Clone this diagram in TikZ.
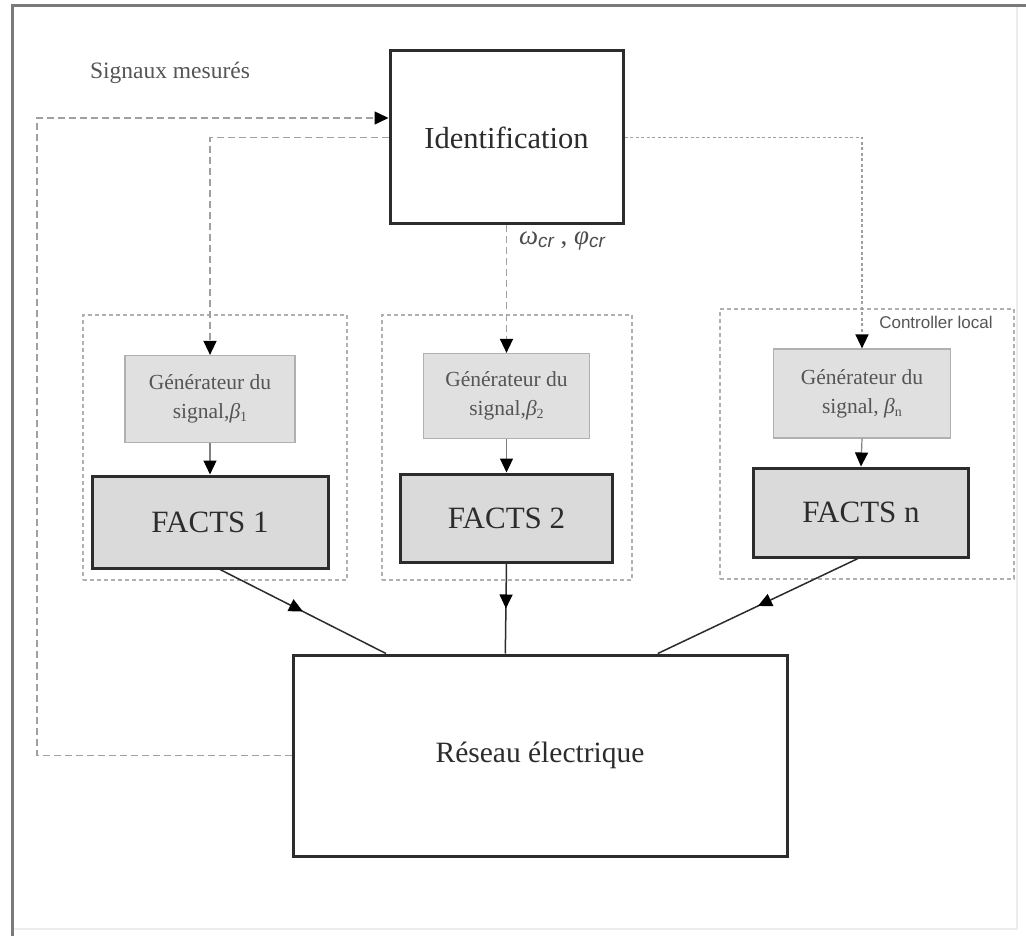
\documentclass[tikz,border=0pt]{standalone}
\usepackage{fontspec}
\setmainfont{Liberation Serif}
\setsansfont{Liberation Sans}
\usetikzlibrary{arrows.meta,decorations.markings,calc}

\definecolor{framegray}{HTML}{7A7A7A}
\definecolor{dashgray}{HTML}{A0A0A0}
\definecolor{boxgray}{HTML}{B0B0B0}
\definecolor{genfill}{HTML}{E0E0E0}
\definecolor{factsfill}{HTML}{DADADA}
\definecolor{darkline}{HTML}{2C2C2C}
\definecolor{txtgray}{HTML}{555555}

% italic Greek symbol with a lowered index
\newcommand{\symidx}[3]{\textit{#1}\raisebox{-#3}{\fontsize{14}{16}\selectfont #2}}

\tikzset{
  tip/.style={-{Triangle[length=14pt,width=13pt,color=black]}},
  sig/.style={draw=dashgray, line width=1.5pt, dash pattern=on 7pt off 4pt, tip},
  localbox/.style={draw=boxgray, line width=1.6pt, dash pattern=on 4pt off 3pt,
    rectangle, inner sep=0pt},
  genbox/.style={draw=boxgray, fill=genfill, line width=1.2pt, rectangle, inner sep=0pt,
    align=center, text=txtgray, font=\fontsize{21.5}{29}\selectfont},
  factsbox/.style={draw=darkline, fill=factsfill, line width=3pt, rectangle, inner sep=0pt,
    text=darkline, font=\fontsize{31}{36}\selectfont},
  bigbox/.style={draw=darkline, fill=white, line width=3pt, rectangle, inner sep=0pt,
    text=darkline},
  feed/.style={draw=gray, line width=1.2pt, tip},
  midtip/.style={draw=darkline, line width=1.5pt, postaction={decorate},
    decoration={markings, mark=at position 0.5 with
      {\arrow{Triangle[length=14pt,width=13pt,color=black]}}}}
}

\begin{document}
\begin{tikzpicture}[x=1pt, y=-1pt]
  % page and frame
  \fill[white] (0,0) rectangle (1026,936);
  \useasboundingbox (0,0) rectangle (1026,936);
  \draw[gray!15, line width=1.5pt] (1017,6) -- (1017,929) -- (12,929);
  \draw[framegray, line width=3pt] (12,936) -- (12,6) -- (1026,6);

  % local controller frames
  \node[localbox, minimum width=264pt, minimum height=265pt] (loc1) at (215,447.5) {};
  \node[localbox, minimum width=250pt, minimum height=265pt] (loc2) at (507,447.5) {};
  \node[localbox, minimum width=294pt, minimum height=270pt] (loc3) at (867,444) {};

  % blocks
  \node[bigbox, minimum width=233pt, minimum height=173pt,
        font=\fontsize{30.5}{36}\selectfont] (ident) at (506.5,137.5) {Identification};

  \node[genbox, minimum width=170pt, minimum height=87pt] (gen1) at (210,399)
    {Générateur du\\signal,\symidx{β}{1}{3pt}};
  \node[genbox, minimum width=166pt, minimum height=85pt] (gen2) at (506.5,396)
    {Générateur du\\signal,\symidx{β}{2}{3pt}};
  \node[genbox, minimum width=177pt, minimum height=89pt] (genn) at (862,393.5)
    {Générateur du\\signal, \symidx{β}{n}{3pt}};

  \node[factsbox, minimum width=236pt, minimum height=92pt] (fac1) at (210,522) {FACTS 1};
  \node[factsbox, minimum width=212pt, minimum height=88pt] (fac2) at (506.5,518) {FACTS 2};
  \node[factsbox, minimum width=215pt, minimum height=89pt] (facn) at (861,512.5) {FACTS n};

  \node[bigbox, minimum width=494pt, minimum height=201pt,
        font=\fontsize{29.5}{36}\selectfont] (res) at (540,755.5) {Réseau électrique};

  % labels
  \node[text=txtgray, font=\fontsize{23.5}{28}\selectfont] (lblsig) at (170,73) {Signaux mesurés};
  \node[text=darkline!85, font=\fontsize{27}{30}\selectfont] (lblw) at (562,241)
    {\textit{ω}\raisebox{-3pt}{\sffamily\itshape\fontsize{19}{22}\selectfont cr} ,
     \textit{φ}\raisebox{-3pt}{\sffamily\itshape\fontsize{19}{22}\selectfont cr}};
  \node[text=txtgray, font=\sffamily\fontsize{17}{20}\selectfont] (lblloc) at (936,322)
    {Controller local};

  % measured signals fed back to identification
  \coordinate (fbx) at (37,118);
  \draw[sig] (res.west) -| (fbx) -- ([yshift=19.5pt]ident.west);

  % identification outputs to the signal generators
  \draw[sig] (ident.west) -| (gen1.north);
  \draw[sig] (ident.south) -- (gen2.north);
  \draw[sig, dash pattern=on 3pt off 2.5pt] (ident.east) -| (genn.north);

  % generators to FACTS devices
  \draw[feed] (gen1.south) -- (fac1.north);
  \draw[feed] (gen2.south) -- (fac2.north);
  \draw[feed] (genn.south) -- (facn.north);

  % FACTS devices acting on the network
  \coordinate (r1) at ($(res.north west)!0.19!(res.north east)$);
  \coordinate (r2) at ($(res.north west)!0.4302!(res.north east)$);
  \coordinate (rn) at ($(res.north west)!0.737!(res.north east)$);
  \draw[midtip] ([xshift=10pt]fac1.south) -- (r1);
  \draw[midtip] (fac2.south) -- (r2);
  \draw[midtip] ([xshift=-3pt]facn.south) -- (rn);
\end{tikzpicture}
\end{document}
